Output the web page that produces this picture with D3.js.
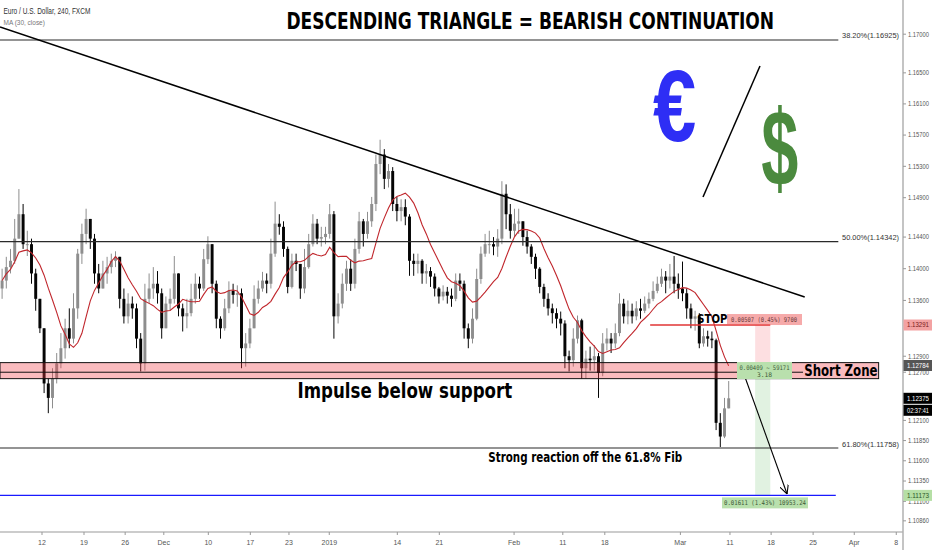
<!DOCTYPE html>
<html><head><meta charset="utf-8">
<script src="https://cdn.jsdelivr.net/npm/d3@7"></script>
<style>body{margin:0;background:#fff;}svg{display:block;}</style>
</head><body>
<svg id="c" width="932" height="550"></svg>
<script>
// ---- DATA (EUR/USD, 12h candles; open = previous close) ----
const firstOpen = 1.1375;
const closes = [
1.1385,1.1402,1.1410,1.1438,1.1469,1.1431,1.1431,1.1394,1.1362,1.1325,
1.1256,1.1238,1.1262,1.1281,1.1300,1.1325,1.1312,1.1350,1.1419,1.1444,
1.1463,1.1438,1.1394,1.1375,1.1394,1.1402,1.1410,1.1415,1.1362,1.1340,
1.1356,1.1350,1.1312,1.1281,1.1362,1.1375,1.1381,1.1369,1.1325,1.1356,
1.1362,1.1394,1.1350,1.1340,1.1344,1.1362,1.1381,1.1375,1.1412,1.1431,
1.1381,1.1337,1.1325,1.1350,1.1372,1.1367,1.1369,1.1300,1.1306,1.1325,
1.1362,1.1375,1.1385,1.1381,1.1419,1.1457,1.1453,1.1425,1.1377,1.1410,
1.1406,1.1375,1.1402,1.1431,1.1457,1.1438,1.1440,1.1444,1.1469,1.1340,
1.1356,1.1381,1.1400,1.1381,1.1425,1.1460,1.1444,1.1460,1.1482,1.1533,
1.1545,1.1514,1.1524,1.1482,1.1473,1.1478,1.1466,1.1410,1.1406,1.1410,
1.1394,1.1397,1.1390,1.1375,1.1365,1.1371,1.1366,1.1362,1.1385,1.1381,
1.1325,1.1312,1.1337,1.1387,1.1419,1.1431,1.1431,1.1428,1.1438,1.1495,
1.1469,1.1448,1.1457,1.1460,1.1440,1.1428,1.1415,1.1400,1.1377,1.1362,
1.1350,1.1344,1.1337,1.1331,1.1290,1.1285,1.1312,1.1335,1.1275,1.1287,
1.1285,1.1290,1.1269,1.1306,1.1312,1.1306,1.1319,1.1356,1.1340,1.1347,
1.1340,1.1350,1.1347,1.1356,1.1362,1.1372,1.1381,1.1390,1.1385,1.1390,
1.1381,1.1375,1.1369,1.1350,1.1337,1.1340,1.1306,1.1315,1.1312,1.1310,
1.1207,1.1190,1.1225,1.12375];
const highs = [
1.1400,1.1415,1.1425,1.1463,1.1501,1.1482,1.1448,1.1438,1.1400,1.1362,
1.1325,1.1262,1.1275,1.1294,1.1319,1.1337,1.1350,1.1369,1.1425,1.1457,
1.1476,1.1463,1.1444,1.1406,1.1410,1.1415,1.1419,1.1422,1.1415,1.1375,
1.1369,1.1365,1.1356,1.1319,1.1381,1.1394,1.1402,1.1397,1.1375,1.1365,
1.1375,1.1416,1.1394,1.1356,1.1362,1.1381,1.1394,1.1390,1.1425,1.1441,
1.1431,1.1385,1.1340,1.1362,1.1384,1.1381,1.1379,1.1375,1.1319,1.1337,
1.1379,1.1385,1.1396,1.1394,1.1438,1.1485,1.1469,1.1460,1.1428,1.1419,
1.1419,1.1390,1.1425,1.1444,1.1469,1.1463,1.1453,1.1453,1.1482,1.1473,
1.1369,1.1394,1.1410,1.1412,1.1438,1.1472,1.1463,1.1472,1.1491,1.1545,
1.1564,1.1552,1.1533,1.1529,1.1491,1.1488,1.1488,1.1469,1.1419,1.1419,
1.1412,1.1406,1.1402,1.1394,1.1377,1.1379,1.1377,1.1375,1.1394,1.1394,
1.1385,1.1331,1.1350,1.1400,1.1428,1.1444,1.1448,1.1440,1.1450,1.1511,
1.1507,1.1482,1.1476,1.1476,1.1460,1.1448,1.1431,1.1419,1.1402,1.1381,
1.1369,1.1356,1.1350,1.1346,1.1335,1.1297,1.1325,1.1341,1.1337,1.1297,
1.1302,1.1304,1.1294,1.1319,1.1325,1.1319,1.1331,1.1369,1.1362,1.1360,
1.1356,1.1359,1.1362,1.1365,1.1370,1.1384,1.1390,1.1400,1.1397,1.1406,
1.1416,1.1394,1.1409,1.1375,1.1356,1.1347,1.1344,1.1325,1.1322,1.1321,
1.1312,1.1219,1.1238,1.1259];
const lows = [
1.1362,1.1375,1.1394,1.1406,1.1438,1.1425,1.1416,1.1381,1.1347,1.1319,
1.1244,1.1219,1.1225,1.1256,1.1275,1.1287,1.1300,1.1306,1.1337,1.1406,
1.1431,1.1425,1.1381,1.1369,1.1375,1.1381,1.1394,1.1402,1.1350,1.1331,
1.1331,1.1337,1.1300,1.1271,1.1272,1.1356,1.1362,1.1356,1.1312,1.1331,
1.1347,1.1356,1.1340,1.1321,1.1325,1.1340,1.1356,1.1362,1.1372,1.1406,
1.1369,1.1325,1.1312,1.1322,1.1344,1.1356,1.1352,1.1275,1.1277,1.1300,
1.1344,1.1356,1.1371,1.1369,1.1375,1.1415,1.1443,1.1415,1.1369,1.1375,
1.1397,1.1362,1.1369,1.1400,1.1428,1.1431,1.1428,1.1431,1.1438,1.1312,
1.1331,1.1350,1.1372,1.1372,1.1375,1.1419,1.1428,1.1438,1.1453,1.1473,
1.1520,1.1501,1.1503,1.1473,1.1460,1.1460,1.1455,1.1391,1.1391,1.1394,
1.1381,1.1381,1.1377,1.1365,1.1356,1.1360,1.1356,1.1352,1.1359,1.1372,
1.1312,1.1300,1.1306,1.1335,1.1381,1.1415,1.1419,1.1417,1.1415,1.1431,
1.1450,1.1438,1.1440,1.1444,1.1429,1.1419,1.1406,1.1387,1.1369,1.1352,
1.1341,1.1331,1.1325,1.1316,1.1275,1.1271,1.1277,1.1306,1.1262,1.1262,
1.1272,1.1272,1.1238,1.1265,1.1297,1.1294,1.1300,1.1315,1.1331,1.1330,
1.1331,1.1335,1.1337,1.1344,1.1350,1.1359,1.1369,1.1377,1.1369,1.1375,
1.1369,1.1362,1.1359,1.1337,1.1325,1.1322,1.1300,1.1302,1.1302,1.1300,
1.1198,1.1177,1.1188,1.1232];
const maPeriod = 10;                 // 30 x 4h bars = 10 x 12h bars
const xTickDays = [5.0,10.0,14.9,19.5,24.8,29.8,34.4,39.2,47.3,52.3,61.2,67.0,72.0,81.0,86.9,91.8,96.8,101.7,106.7];
const xTickLabels = ["12","19","26","Dec","10","17","23","2019","14","21","Feb","11","18","Mar","11","18","25","Apr","8"];
const yTickValues = [1.17,1.165,1.161,1.157,1.153,1.149,1.144,1.140,1.136,1.129,1.127,1.121,1.1185,1.116,1.1135,1.111,1.1086];
const fibLabels = ["38.20%","50.00%","61.80%"];
const fibValues = [1.16925,1.14342,1.11758];
const entryPrice = 1.12784, stopPrice = 1.13291, targetPrice = 1.11173, lastPrice = 1.12375;
const zoneTop = 1.1282, zoneBottom = 1.1262, zoneMid = 1.1270;
const trendDays = [0, 95.8], trendPrices = [1.17094, 1.13643];
const arrowDays = [88.3, 93.7], arrowPrices = [1.12753, 1.11190];
const stopLabel = "0.00507 (0.45%) 9700";
const entryLabel1 = "0.00409 ~ 59171", entryLabel2 = "3.18";
const targetLabel = "0.01611 (1.43%) 10953.24";
const countdown = "02:37:41";

// ---- CHART ----
const PR = 903, PB = 532;
const svg = d3.select('#c');
const x = d3.scaleLinear().domain([0, 107.5]).range([0, PR]);
const y = d3.scaleLog().domain([1.10723, 1.17444]).range([PB, 0]);

svg.append('defs').append('clipPath').attr('id','clip')
  .append('rect').attr('x',0).attr('y',0).attr('width',PR).attr('height',PB);
svg.select('defs').append('marker').attr('id','arr').attr('viewBox','0 0 10 10')
  .attr('refX',10).attr('refY',5).attr('markerWidth',9).attr('markerHeight',9)
  .attr('orient','auto').attr('markerUnits','userSpaceOnUse')
  .append('path').attr('d','M0,0 L10,5 L0,10').attr('fill','none').attr('stroke','#000').attr('stroke-width',1.2);

const plot = svg.append('g').attr('clip-path','url(#clip)');

// position tool columns
const colX0 = x(89.9), colX1 = x(91.7);
plot.append('rect').attr('x',colX0).attr('width',colX1-colX0)
  .attr('y',y(stopPrice)).attr('height',y(entryPrice)-y(stopPrice)).attr('fill','rgba(242,54,69,0.16)');
plot.append('rect').attr('x',colX0).attr('width',colX1-colX0)
  .attr('y',y(entryPrice)).attr('height',y(targetPrice)-y(entryPrice)).attr('fill','rgba(76,175,80,0.17)');

// candles
const candles = closes.map((c,i)=>{
  const o = i===0 ? firstOpen : closes[i-1];
  return {t: i*0.5+0.25, o, c, h: Math.max(highs[i],o,c), l: Math.min(lows[i],o,c)};
});
const bw = (x(0.5)-x(0))*0.7;
const upCol = '#8e8e8e', dnCol = '#050505';
const cg = plot.append('g');
cg.selectAll('line.w').data(candles).join('line')
  .attr('x1',d=>x(d.t)).attr('x2',d=>x(d.t)).attr('y1',d=>y(d.h)).attr('y2',d=>y(d.l))
  .attr('stroke',d=>d.c>=d.o?upCol:dnCol).attr('stroke-width',1);
cg.selectAll('rect.b').data(candles).join('rect')
  .attr('x',d=>x(d.t)-bw/2).attr('width',bw)
  .attr('y',d=>y(Math.max(d.o,d.c))).attr('height',d=>Math.max(1,Math.abs(y(d.o)-y(d.c))))
  .attr('fill',d=>d.c>=d.o?upCol:dnCol);

// moving average
const ma = candles.map((d,i)=>{
  const s = closes.slice(Math.max(0,i-maPeriod+1), i+1);
  return {t:d.t, v:d3.mean(s)};
});
plot.append('path').datum(ma).attr('fill','none').attr('stroke','#c0262c').attr('stroke-width',1.1)
  .attr('d', d3.line().x(d=>x(d.t)).y(d=>y(d.v)));

// fib lines
fibValues.forEach((v,i)=>{
  plot.append('line').attr('x1',x(0)).attr('x2',x(99.8)).attr('y1',y(v)).attr('y2',y(v))
    .attr('stroke','#2a2a2a').attr('stroke-width',1.2);
});
// target (blue) line
plot.append('line').attr('x1',x(0)).attr('x2',x(99.5)).attr('y1',y(targetPrice)).attr('y2',y(targetPrice))
  .attr('stroke','#1a1aff').attr('stroke-width',1.2);

// support / short zone
plot.append('rect').attr('x',x(0)).attr('width',x(104.6)-x(0))
  .attr('y',y(zoneTop)).attr('height',y(zoneBottom)-y(zoneTop))
  .attr('fill','rgba(242,60,70,0.35)').attr('stroke','#111').attr('stroke-width',1);
plot.append('line').attr('x1',x(0)).attr('x2',x(95.6)).attr('y1',y(zoneMid)).attr('y2',y(zoneMid))
  .attr('stroke','#111').attr('stroke-width',1);

// descending trendline
plot.append('line').attr('x1',x(trendDays[0])).attr('y1',y(trendPrices[0]))
  .attr('x2',x(trendDays[1])).attr('y2',y(trendPrices[1])).attr('stroke','#000').attr('stroke-width',1.5);

// stop line
plot.append('line').attr('x1',x(77.4)).attr('x2',x(91.7)).attr('y1',y(stopPrice)).attr('y2',y(stopPrice))
  .attr('stroke','#e03535').attr('stroke-width',1.6);

// arrow
plot.append('line').attr('x1',x(arrowDays[0])).attr('y1',y(arrowPrices[0]))
  .attr('x2',x(arrowDays[1])).attr('y2',y(arrowPrices[1])).attr('stroke','#000').attr('stroke-width',1.1)
  .attr('marker-end','url(#arr)');

// position tool labels
const sy = y(stopPrice);
svg.append('rect').attr('x',727).attr('y',sy-11).attr('width',75).attr('height',11).attr('fill','rgba(238,100,100,0.55)');
svg.append('text').attr('x',731).attr('y',sy-3).attr('font-family','DejaVu Sans Mono').attr('font-size',6.5)
  .attr('textLength',66).attr('lengthAdjust','spacingAndGlyphs').attr('fill','#6b3a3a').text(stopLabel);
const ey = y(entryPrice);
svg.append('rect').attr('x',737).attr('y',ey-3.5).attr('width',55).attr('height',17).attr('fill','#b9e0ad');
svg.append('text').attr('x',764.5).attr('y',ey+4.5).attr('text-anchor','middle').attr('font-family','DejaVu Sans Mono')
  .attr('font-size',6.3).attr('textLength',50).attr('lengthAdjust','spacingAndGlyphs').attr('fill','#3d5a38').text(entryLabel1);
svg.append('text').attr('x',764.5).attr('y',ey+11.5).attr('text-anchor','middle').attr('font-family','DejaVu Sans Mono')
  .attr('font-size',6.3).attr('fill','#3d5a38').text(entryLabel2);
const ty = y(targetPrice);
svg.append('rect').attr('x',722).attr('y',ty+2).attr('width',86).attr('height',11).attr('fill','#b9e0ad');
svg.append('text').attr('x',765).attr('y',ty+10).attr('text-anchor','middle').attr('font-family','DejaVu Sans Mono')
  .attr('font-size',6.5).attr('textLength',82).attr('lengthAdjust','spacingAndGlyphs').attr('fill','#3d5a38').text(targetLabel);

// fib labels
fibValues.forEach((v,i)=>{
  svg.append('text').attr('x',842).attr('y',y(v)-1.5).attr('font-family','Liberation Sans').attr('font-size',7.5)
    .attr('textLength',57).attr('lengthAdjust','spacingAndGlyphs').attr('fill','#333')
    .text(`${fibLabels[i]}(${v.toFixed(5)})`);
});

// text fitting helper (ink box)
const ctx = document.createElement('canvas').getContext('2d');
function fitText(str, fam, weight, box, fill){
  const F = 100;
  ctx.font = `${weight} ${F}px "${fam}"`;
  const m = ctx.measureText(str);
  const iw = m.actualBoundingBoxLeft + m.actualBoundingBoxRight;
  const ih = m.actualBoundingBoxAscent + m.actualBoundingBoxDescent;
  const sx = (box[2]-box[0])/iw, sy2 = (box[3]-box[1])/ih;
  svg.append('text')
    .attr('transform',`translate(${box[0]+sx*m.actualBoundingBoxLeft},${box[1]+sy2*m.actualBoundingBoxAscent}) scale(${sx},${sy2})`)
    .attr('font-family',fam).attr('font-weight',weight).attr('font-size',F).attr('fill',fill).text(str);
}
fitText('DESCENDING TRIANGLE = BEARISH CONTINUATION','DejaVu Sans','bold',[288,11,773,29],'#000');
fitText('Impulse below support','DejaVu Sans','bold',[299,382,512,402],'#000');
fitText('Strong reaction off the 61.8% Fib','DejaVu Sans','bold',[489,452,682,465],'#000');
fitText('STOP','DejaVu Sans','bold',[698,313,727,323],'#000');
fitText('Short Zone','DejaVu Sans','bold',[805,364,877,376],'#000');
fitText('Euro / U.S. Dollar, 240, FXCM','Liberation Sans','normal',[4,8,90,15.5],'#333');
fitText('MA (30, close)','Liberation Sans','normal',[4,20,45,27],'#777');
fitText('\u20AC','Liberation Sans','bold',[653,70,695,142],'#2e2ef5');
fitText('$','Liberation Sans','bold',[762,105,798,193],'#4b8a3e');
// slash between currencies
svg.append('line').attr('x1',703).attr('y1',197).attr('x2',760).attr('y2',66).attr('stroke','#000').attr('stroke-width',1.5);

// ---- AXES ----
svg.append('line').attr('x1',0).attr('x2',PR).attr('y1',PB).attr('y2',PB).attr('stroke','#9a9a9a').attr('stroke-width',1.2);
svg.append('line').attr('x1',PR).attr('x2',PR).attr('y1',0).attr('y2',550).attr('stroke','#b0b0b0').attr('stroke-width',1.5);
const xa = svg.append('g');
xTickDays.forEach((d,i)=>{
  xa.append('line').attr('x1',x(d)).attr('x2',x(d)).attr('y1',PB).attr('y2',PB+3).attr('stroke','#999');
  xa.append('text').attr('x',x(d)).attr('y',544.5).attr('text-anchor','middle').attr('font-family','Liberation Sans')
    .attr('font-size',7).attr('fill','#555').text(xTickLabels[i]);
});
const ya = svg.append('g');
yTickValues.forEach(v=>{
  ya.append('line').attr('x1',PR).attr('x2',PR+3).attr('y1',y(v)).attr('y2',y(v)).attr('stroke','#999');
  ya.append('text').attr('x',908).attr('y',y(v)+2.4).attr('font-family','Liberation Sans').attr('font-size',6.6)
    .attr('textLength',21).attr('lengthAdjust','spacingAndGlyphs').attr('fill','#555').text(v.toFixed(5));
});
function axisLabel(v, txt, bg, fg, dy){
  const cy = y(v) + (dy||0);
  ya.append('rect').attr('x',PR+0.5).attr('y',cy-5.5).attr('width',932-PR).attr('height',11).attr('fill',bg);
  ya.append('text').attr('x',907).attr('y',cy+2.3).attr('font-family','Liberation Sans').attr('font-size',6.3)
    .attr('textLength',22).attr('lengthAdjust','spacingAndGlyphs').attr('fill',fg).text(txt);
}
axisLabel(stopPrice, stopPrice.toFixed(5), '#f3a2a2', '#7a2020');
axisLabel(entryPrice, entryPrice.toFixed(5), '#555555', '#ffffff');
axisLabel(lastPrice, lastPrice.toFixed(5), '#000000', '#ffffff');
axisLabel(lastPrice, countdown, '#000000', '#ffffff', 12);
axisLabel(targetPrice, targetPrice.toFixed(5), '#b5dfa5', '#2d5a27');
</script>
</body></html>
